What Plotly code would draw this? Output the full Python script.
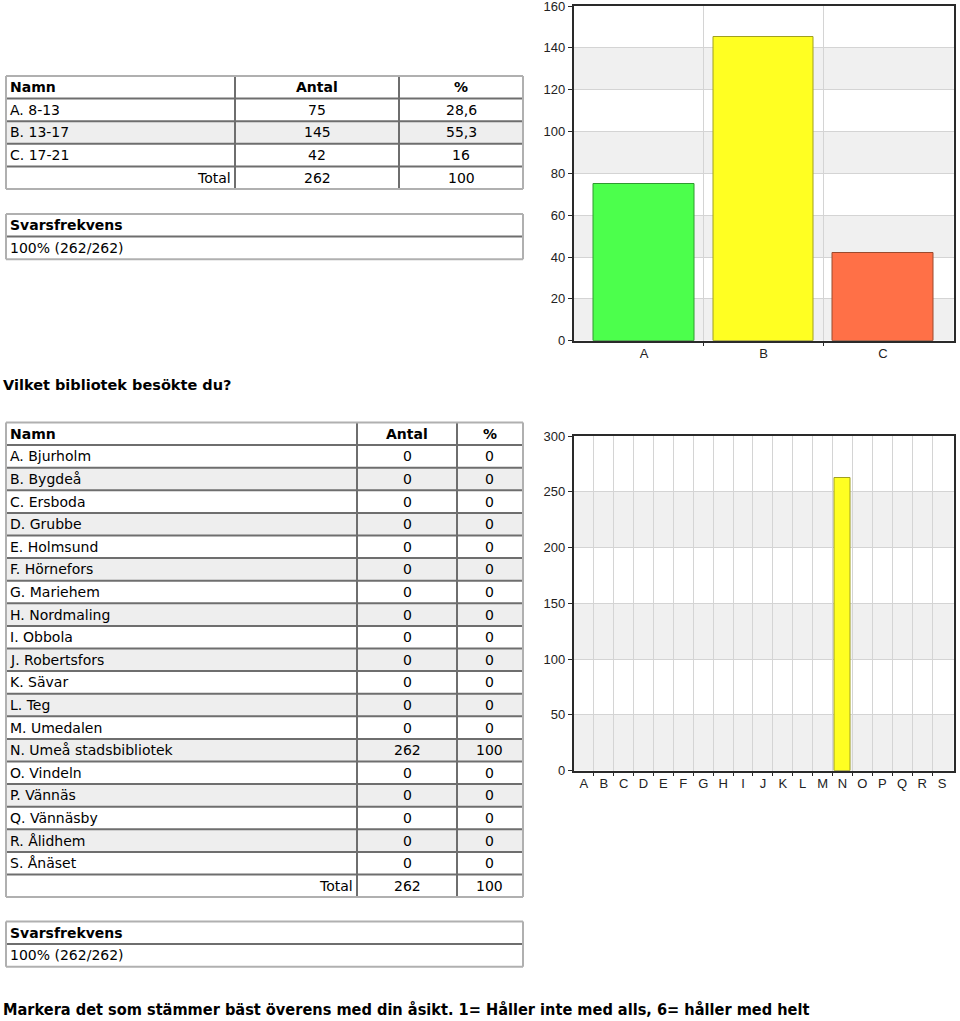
import plotly.graph_objects as go

# ---------------- data ----------------
age_names = ["A. 8-13", "B. 13-17", "C. 17-21"]
age_letters = ["A", "B", "C"]
age_counts = [75, 145, 42]
age_pct = ["28,6", "55,3", "16"]
age_total = [262, 100]

lib_names = ["A. Bjurholm", "B. Bygdeå", "C. Ersboda", "D. Grubbe", "E. Holmsund",
             "F. Hörnefors", "G. Mariehem", "H. Nordmaling", "I. Obbola",
             "J. Robertsfors", "K. Sävar", "L. Teg", "M. Umedalen",
             "N. Umeå stadsbibliotek", "O. Vindeln", "P. Vännäs", "Q. Vännäsby",
             "R. Ålidhem", "S. Ånäset"]
lib_letters = ["A", "B", "C", "D", "E", "F", "G", "H", "I", "J", "K", "L", "M",
               "N", "O", "P", "Q", "R", "S"]
lib_counts = [0, 0, 0, 0, 0, 0, 0, 0, 0, 0, 0, 0, 0, 262, 0, 0, 0, 0, 0]
lib_pct = ["0"] * 13 + ["100"] + ["0"] * 5
lib_total = [262, 100]

svar_label = "Svarsfrekvens"
svar_value = "100% (262/262)"
question2 = "Vilket bibliotek besökte du?"
question3 = "Markera det som stämmer bäst överens med din åsikt. 1= Håller inte med alls, 6= håller med helt"

age_colors = ["#4cff4c", "#ffff22", "#ff7047"]
age_lines = ["#2f9a2f", "#a0a020", "#9a4a2e"]

W, H = 960, 1021


def fx(x):
    return x / W


def fy(y):
    return 1 - y / H


shapes = []
annotations = []
TFONT = "DejaVu Sans, Verdana, sans-serif"
INNER = "#6e6e6e"
OUTER = "#b0b0b0"


def text(x, y, s, anchor="left", bold=False, size=14, font=TFONT, color="#000"):
    annotations.append(dict(
        x=fx(x), y=fy(y), xref="paper", yref="paper", text=(f"<b>{s}</b>" if bold else s),
        showarrow=False, xanchor=anchor, yanchor="middle", borderpad=0,
        font=dict(family=font, size=size, color=color)))


def rect(x0, y0, x1, y1, fill="white", line=None, width=0):
    shapes.append(dict(type="rect", xref="paper", yref="paper",
                       x0=fx(x0), x1=fx(x1), y0=fy(y1), y1=fy(y0),
                       fillcolor=fill, line=dict(color=line or fill, width=width), layer="below"))


def line(x0, y0, x1, y1, color=INNER, width=2):
    shapes.append(dict(type="line", xref="paper", yref="paper",
                       x0=fx(x0), x1=fx(x1), y0=fy(y0), y1=fy(y1),
                       line=dict(color=color, width=width), layer="above"))


def table(top, rh, edges, header, rows, total):
    nrows = 1 + len(rows) + 1
    left, right = edges[0], edges[-1]
    bottom = top + nrows * rh
    for r in range(nrows):
        y0 = top + r * rh
        y1 = y0 + rh
        fill = "#eeeeee" if (1 <= r <= len(rows) and (r - 1) % 2 == 1) else "white"
        rect(left, y0, right, y1, fill=fill)
        if r > 0:
            line(left, y0, right, y0)
        yc = (y0 + y1) / 2
        if r == 0:
            vals, bold = header, True
        elif r <= len(rows):
            vals, bold = rows[r - 1], False
        else:
            vals, bold = total, False
        for c, v in enumerate(vals):
            if c == 0:
                if r == nrows - 1:
                    text(edges[1] - 3, yc, v, "right", bold)
                else:
                    text(edges[0] + 3, yc, v, "left", bold)
            else:
                text((edges[c] + edges[c + 1]) / 2, yc, v, "center", bold)
    for e in edges[1:-1]:
        line(e, top, e, bottom)
    # outer border
    line(left, top, right, top, OUTER, 2)
    line(left, bottom, right, bottom, OUTER, 2)
    line(left, top, left, bottom, OUTER, 2)
    line(right, top, right, bottom, OUTER, 2)


def svar(top, rh, left, right):
    rect(left, top, right, top + 2 * rh, fill="white")
    line(left, top + rh, right, top + rh)
    line(left, top, right, top, OUTER, 2)
    line(left, top + 2 * rh, right, top + 2 * rh, OUTER, 2)
    line(left, top, left, top + 2 * rh, OUTER, 2)
    line(right, top, right, top + 2 * rh, OUTER, 2)
    text(left + 3, top + rh / 2, svar_label, "left", True)
    text(left + 3, top + 1.5 * rh, svar_value, "left", False)


# table 1
table(76, 22.6, [6, 235, 399, 523], ["Namn", "Antal", "%"],
      [[n, str(c), p] for n, c, p in zip(age_names, age_counts, age_pct)],
      ["Total", str(age_total[0]), str(age_total[1])])
svar(214, 22.6, 6, 523)

text(2, 385, question2, "left", True, size=14.5)

# table 2
table(422.5, 22.6, [6, 357, 457, 523], ["Namn", "Antal", "%"],
      [[n, str(c), p] for n, c, p in zip(lib_names, lib_counts, lib_pct)],
      ["Total", str(lib_total[0]), str(lib_total[1])])
svar(921.5, 22.6, 6, 523)

text(2, 1009, question3, "left", True, size=16.2,
     font="DejaVu Sans Condensed, Liberation Sans Narrow, Arial Narrow, sans-serif", color="#000")

# ---------------- charts ----------------
fig = go.Figure()

fig.add_trace(go.Bar(x=list(range(len(age_counts))), y=age_counts, width=0.84,
                     marker=dict(color=age_colors, line=dict(color=age_lines, width=1)),
                     xaxis="x", yaxis="y", showlegend=False, hoverinfo="x+y"))

fig.add_trace(go.Bar(x=list(range(len(lib_counts))), y=lib_counts, width=0.84,
                     marker=dict(color="#ffff22",
                                 line=dict(color="#a0a020",
                                           width=[1 if v > 0 else 0 for v in lib_counts])),
                     xaxis="x2", yaxis="y2", showlegend=False, hoverinfo="x+y"))

AX = "#2a2a2a"
GRID = "#d4d4d4"
TICKF = dict(family="Liberation Sans, Arial, sans-serif", size=13, color="#222")


def bands(yref, ymax, step):
    v = 0
    k = 0
    while v < ymax:
        if k % 2 == 0:
            shapes.append(dict(type="rect", xref=yref.replace("y", "x") + " domain", yref=yref,
                               x0=0, x1=1, y0=v, y1=v + step, fillcolor="#f0f0f0",
                               line=dict(width=0), layer="below"))
        v += step
        k += 1


bands("y", 160, 20)
bands("y2", 300, 50)


def xax(n, dom, rng, letters, ybottom):
    return dict(domain=dom, range=rng, tickmode="array", tickvals=list(range(n)),
                ticktext=letters, ticks="", showgrid=False, zeroline=False,
                showline=True, linecolor=AX, linewidth=1.5, mirror=True,
                tickfont=TICKF, anchor=ybottom, automargin=False, fixedrange=True,
                ticklabeloverflow="allow",
                minor=dict(tickmode="array", tickvals=[i + 0.5 for i in range(n - 1)],
                           showgrid=True, gridcolor=GRID, gridwidth=1,
                           ticks="outside", ticklen=4, tickcolor=AX))


def yax(dom, ymax, step, xanchor):
    return dict(domain=dom, range=[0, ymax], tickmode="linear", tick0=0, dtick=step,
                ticks="outside", ticklen=4, tickcolor=AX, showgrid=True, gridcolor=GRID,
                zeroline=False, showline=True, linecolor=AX, linewidth=1.5, mirror=True,
                tickfont=TICKF, anchor=xanchor, automargin=False, fixedrange=True,
                ticklabeloverflow="allow")


xdom = [fx(573.5), fx(953.5)]
fig.update_layout(
    width=W, height=H, margin=dict(l=0, r=0, t=0, b=0, autoexpand=False),
    paper_bgcolor="white", plot_bgcolor="white", bargap=0,
    xaxis=xax(len(age_counts), xdom, [-0.59, 2.59], age_letters, "y"),
    yaxis=yax([fy(340.7), fy(6)], 160, 20, "x"),
    xaxis2=xax(len(lib_counts), xdom, [-0.52, 18.58], lib_letters, "y2"),
    yaxis2=yax([fy(770.7), fy(436)], 300, 50, "x2"),
    shapes=shapes, annotations=annotations,
)

fig.write_html("out.html")
